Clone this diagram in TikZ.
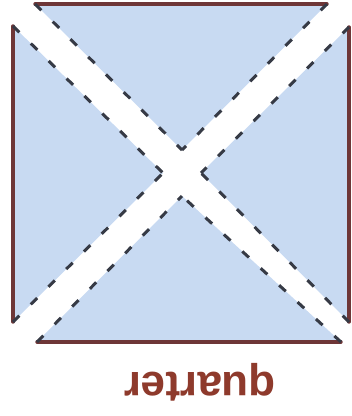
\documentclass[tikz,border=0pt]{standalone}
\usepackage{fontspec}
\setmainfont{Liberation Sans}
\usetikzlibrary{calc}
\definecolor{paper}{HTML}{C8DAF2}
\definecolor{edge}{HTML}{6E3637}
\definecolor{foldc}{HTML}{363A45}
\definecolor{labelc}{HTML}{8E3A2C}
\begin{document}
\begin{tikzpicture}[x=1pt,y=-1pt,
  piece/.style={fill=paper, draw=none},
  rim/.style={draw=edge, line width=3.4pt, line cap=round},
  fold/.style={draw=foldc, line width=3pt, dash pattern=on 9pt off 16pt}]
\useasboundingbox (0,0) rectangle (352,416);
\coordinate (TL) at (13,4);
\coordinate (TR) at (349,4);
\coordinate (BR) at (349,342);
\coordinate (BL) at (13,342);
\coordinate (C) at (182,173);
% top piece
\coordinate (t1) at ($(TL)+(22,0)$);
\coordinate (t2) at ($(TR)+(-22,0)$);
\coordinate (t3) at ($(C)+(0,-23)$);
% left piece
\coordinate (l1) at ($(TL)+(0,22)$);
\coordinate (l2) at ($(BL)+(0,-20)$);
\coordinate (l3) at ($(C)+(-19,0)$);
% right piece
\coordinate (r1) at ($(TR)+(0,23)$);
\coordinate (r2) at ($(BR)+(0,-20)$);
\coordinate (r3) at ($(C)+(19,0)$);
% bottom piece
\coordinate (b1) at ($(BL)+(24,0)$);
\coordinate (b2) at ($(BR)+(-8,0)$);
\coordinate (b3) at ($(C)+(0,23)$);
\foreach \p in {t,l,r,b}{
  \path[piece] (\p1) -- (\p2) -- (\p3) -- cycle;
  \draw[rim] (\p1) -- (\p2);
  \draw[fold] (\p1) -- (\p3);
  \draw[fold] (\p2) -- (\p3);
}
\node[rotate=180, anchor=base, inner sep=0, text=labelc,
      font=\bfseries\fontsize{44}{44}\selectfont] (word) at (200,372) {quarter};
\end{tikzpicture}
\end{document}
